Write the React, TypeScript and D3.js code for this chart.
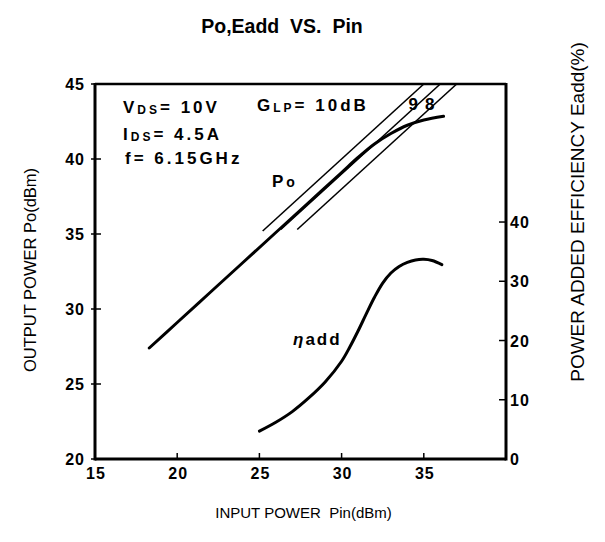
import React from "react";
import * as d3 from "d3";

const poPin = [18.3, 20, 22, 24, 26, 28, 30, 31, 32, 33, 34, 35, 36.2];
const poOut = [27.4, 29.1, 31.1, 33.1, 35.1, 37.1, 39.1, 40.1, 41.0, 41.7, 42.25, 42.6, 42.85];

const effPin = [25, 26, 27, 28, 29, 30, 30.5, 31, 31.5, 32, 32.5, 33, 33.5, 34, 34.5, 35, 35.5, 36.1];
const effVal = [4.7, 6.2, 8.0, 10.3, 13.0, 16.5, 18.9, 21.6, 24.5, 27.3, 29.7, 31.4, 32.5, 33.2, 33.6, 33.7, 33.5, 32.8];

const gainValues = [10, 9, 8];
const gainStarts = [25.2, 26.3, 27.3];
const gainLabels = ["", "9", "8"];

const xTicks = [15, 20, 25, 30, 35];
const yLeftTicks = [20, 25, 30, 35, 40, 45];
const yRightTicks = [0, 10, 20, 30, 40];

const W = 605;
const H = 542;

export default function App() {
  const x = d3.scaleLinear().domain([15, 40]).range([95, 506]);
  const yL = d3.scaleLinear().domain([20, 45]).range([459, 84]);
  const yR = d3.scaleLinear().domain([0, 63.3]).range([459, 84]);

  const poLine = d3
    .line<number>()
    .x((_, i) => x(poPin[i]))
    .y((d) => yL(d))
    .curve(d3.curveCatmullRom.alpha(0.5));
  const effLine = d3
    .line<number>()
    .x((_, i) => x(effPin[i]))
    .y((d) => yR(d))
    .curve(d3.curveCatmullRom.alpha(0.5));

  const font = "'Liberation Sans', Arial, sans-serif";

  return (
    <svg width={W} height={H} style={{ display: "block", position: "absolute", left: 0, top: 0, background: "#fff" }}>
      <rect width={W} height={H} fill="#fff" />
      <text x={282} y={33} textAnchor="middle" fontFamily={font} fontWeight="bold" fontSize={19.5}>
        Po,Eadd{"\u00a0\u00a0"}VS.{"\u00a0\u00a0"}Pin
      </text>

      {/* frame */}
      <line x1={x(15)} x2={x(40)} y1={yL(45)} y2={yL(45)} stroke="#000" strokeWidth={2.5} />
      <line x1={x(15)} x2={x(15)} y1={yL(45) - 1} y2={yL(20) + 1.5} stroke="#000" strokeWidth={3} />
      <line x1={x(15)} x2={x(40)} y1={yL(20)} y2={yL(20)} stroke="#000" strokeWidth={3} />
      <line x1={x(40)} x2={x(40)} y1={yL(45) - 1} y2={yL(20) + 1.5} stroke="#000" strokeWidth={3} />

      <g fontFamily={font} fontWeight="bold" fontSize={16} letterSpacing={1}>
        {yLeftTicks.map((t) => (
          <g key={"l" + t}>
            <line x1={x(15) - 4} x2={x(15) + 6} y1={yL(t)} y2={yL(t)} stroke="#000" strokeWidth={1.5} />
            <text x={x(15) - 10} y={yL(t) + 6} textAnchor="end">
              {t}
            </text>
          </g>
        ))}
        {xTicks.map((t) => (
          <g key={"b" + t}>
            <line x1={x(t)} x2={x(t)} y1={yL(20)} y2={yL(20) - 6} stroke="#000" strokeWidth={1.5} />
            <text x={x(t) + 1} y={479} textAnchor="middle">
              {t}
            </text>
          </g>
        ))}
        {yRightTicks.map((t) => (
          <g key={"r" + t}>
            <line x1={x(40) - 7} x2={x(40)} y1={yR(t)} y2={yR(t)} stroke="#000" strokeWidth={1.5} />
            <text x={x(40) + 4} y={yR(t) + 6} textAnchor="start">
              {t}
            </text>
          </g>
        ))}
      </g>

      {gainValues.map((g, i) => (
        <line
          key={"g" + g}
          x1={x(gainStarts[i])}
          y1={yL(gainStarts[i] + g)}
          x2={x(45 - g)}
          y2={yL(45)}
          stroke="#000"
          strokeWidth={1.6}
        />
      ))}
      {gainLabels.map((lab, i) =>
        lab ? (
          <text
            key={"gl" + i}
            x={x(45 - gainValues[i]) - 27}
            y={yL(43.3)}
            fontFamily={font}
            fontWeight="bold"
            fontSize={17}
            textAnchor="middle"
          >
            {lab}
          </text>
        ) : null
      )}

      <path d={poLine(poOut) || ""} fill="none" stroke="#000" strokeWidth={3} strokeLinecap="round" />
      <path d={effLine(effVal) || ""} fill="none" stroke="#000" strokeWidth={3} strokeLinecap="round" />

      <g fontFamily={font} fontWeight="bold" fontSize={17} letterSpacing={3}>
        <text x={123} y={113}>
          V<tspan fontSize={12} dy={1}>DS</tspan>
          <tspan dy={-1}>= 10V</tspan>
        </text>
        <text x={123} y={140}>
          I<tspan fontSize={12} dy={1}>DS</tspan>
          <tspan dy={-1}>= 4.5A</tspan>
        </text>
        <text x={125} y={164}>f= 6.15GHz</text>
        <text x={257} y={111}>
          G<tspan fontSize={12} dy={1}>LP</tspan>
          <tspan dy={-1}>= 10dB</tspan>
        </text>
        <text x={272} y={187}>
          P<tspan fontSize={14}>o</tspan>
        </text>
        <text x={293} y={345} letterSpacing={2}>
          <tspan fontStyle="italic">η</tspan>
          <tspan>add</tspan>
        </text>
      </g>

      <text x={W / 2 + 1} y={518} textAnchor="middle" fontFamily={font} fontSize={15}>
        INPUT POWER{"\u00a0\u00a0"}Pin(dBm)
      </text>
      <text transform={`translate(36,270) rotate(-90)`} textAnchor="middle" fontFamily={font} fontSize={16.5}>
        OUTPUT POWER Po(dBm)
      </text>
      <text transform={`translate(584,212) rotate(-90)`} textAnchor="middle" fontFamily={font} fontSize={19}>
        POWER ADDED EFFICIENCY Eadd(%)
      </text>
    </svg>
  );
}
